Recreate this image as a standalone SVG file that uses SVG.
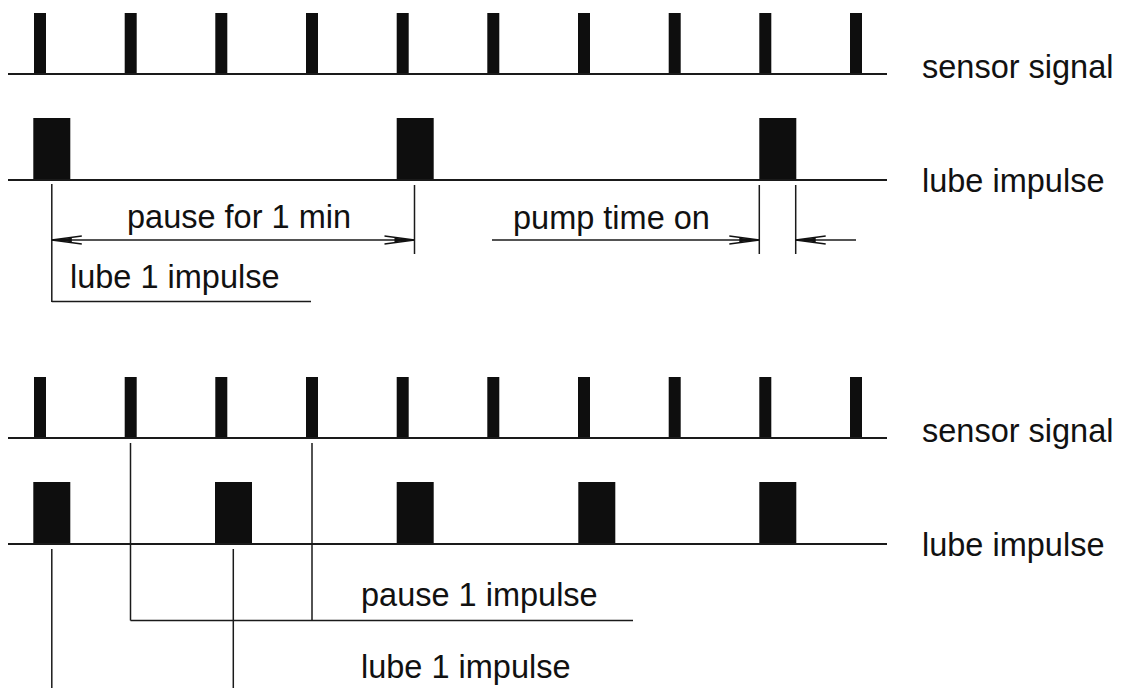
<svg xmlns="http://www.w3.org/2000/svg" width="1124" height="688" viewBox="0 0 1124 688">
<style>
.base{stroke:#1a1a1a;stroke-width:2;fill:none}
.thin{stroke:#1a1a1a;stroke-width:1.5;fill:none}
.pulse{fill:#0e0e0e}
.lbl{font-family:"Liberation Sans",Arial,sans-serif;font-size:32.5px;fill:#111}
</style>
<defs>
<marker id="ah" viewBox="-32 -6 34 12" refX="0" refY="0" markerWidth="34" markerHeight="12" markerUnits="userSpaceOnUse" orient="auto-start-reverse">
<path d="M0,0 L-30,-4 M0,0 L-30,4" stroke="#111" stroke-width="1.3" fill="none"/>
<path d="M0,0 L-20,-2.2 L-20,2.2 Z" fill="#111"/>
</marker>
<rect id="sp" x="0" y="0" width="12" height="61" class="pulse"/>
<rect id="lp" x="0" y="0" width="37" height="62" class="pulse"/>
</defs>
<rect width="1124" height="688" fill="#fff"/>

<g id="top-sensor">
<use href="#sp" x="34" y="13"/><use href="#sp" x="124.7" y="13"/><use href="#sp" x="215.3" y="13"/><use href="#sp" x="306" y="13"/><use href="#sp" x="396.7" y="13"/><use href="#sp" x="487.3" y="13"/><use href="#sp" x="578" y="13"/><use href="#sp" x="668.7" y="13"/><use href="#sp" x="759.3" y="13"/><use href="#sp" x="850" y="13"/>
<line class="base" x1="8" y1="74" x2="887" y2="74"/>
<text class="lbl" x="922" y="78">sensor signal</text>
</g>
<g id="top-lube">
<use href="#lp" x="33.3" y="118"/><use href="#lp" x="396.7" y="118"/><use href="#lp" x="759.3" y="118"/>
<line class="base" x1="8" y1="180" x2="887" y2="180"/>
<text class="lbl" x="922" y="192">lube impulse</text>
</g>

<g id="bottom-sensor">
<use href="#sp" x="34" y="377"/><use href="#sp" x="124.7" y="377"/><use href="#sp" x="215.3" y="377"/><use href="#sp" x="306" y="377"/><use href="#sp" x="396.7" y="377"/><use href="#sp" x="487.3" y="377"/><use href="#sp" x="578" y="377"/><use href="#sp" x="668.7" y="377"/><use href="#sp" x="759.3" y="377"/><use href="#sp" x="850" y="377"/>
<line class="base" x1="8" y1="438" x2="887" y2="438"/>
<text class="lbl" x="922" y="442">sensor signal</text>
</g>
<g id="bottom-lube">
<use href="#lp" x="33.3" y="482"/><use href="#lp" x="215" y="482"/><use href="#lp" x="396.7" y="482"/><use href="#lp" x="578.3" y="482"/><use href="#lp" x="759.3" y="482"/>
<line class="base" x1="8" y1="544" x2="887" y2="544"/>
<text class="lbl" x="922" y="556">lube impulse</text>
</g>

<g id="connectors">
<line class="thin" x1="51.8" y1="184" x2="51.8" y2="302"/>
<line class="thin" x1="51.8" y1="240" x2="414.5" y2="240" marker-start="url(#ah)" marker-end="url(#ah)"/>
<line class="thin" x1="414.5" y1="185" x2="414.5" y2="254"/>
<line class="thin" x1="51.8" y1="301.5" x2="311" y2="301.5"/>
<line class="thin" x1="492" y1="240" x2="759.3" y2="240" marker-end="url(#ah)"/>
<line class="thin" x1="759.3" y1="185" x2="759.3" y2="254"/>
<line class="thin" x1="795.7" y1="185" x2="795.7" y2="254"/>
<line class="thin" x1="856" y1="240" x2="795.7" y2="240" marker-end="url(#ah)"/>

<line class="thin" x1="130.5" y1="443" x2="130.5" y2="620.5"/>
<line class="thin" x1="312" y1="443" x2="312" y2="620.5"/>
<line class="thin" x1="130.5" y1="620.5" x2="633" y2="620.5"/>
<line class="thin" x1="51.8" y1="549" x2="51.8" y2="688"/>
<line class="thin" x1="233.3" y1="549" x2="233.3" y2="688"/>
</g>

<g id="labels">
<text class="lbl" x="127" y="228">pause for 1 min</text>
<text class="lbl" x="70" y="288">lube 1 impulse</text>
<text class="lbl" x="513" y="229">pump time on</text>
<text class="lbl" x="361" y="606">pause 1 impulse</text>
<text class="lbl" x="361" y="678">lube 1 impulse</text>
</g>
</svg>
